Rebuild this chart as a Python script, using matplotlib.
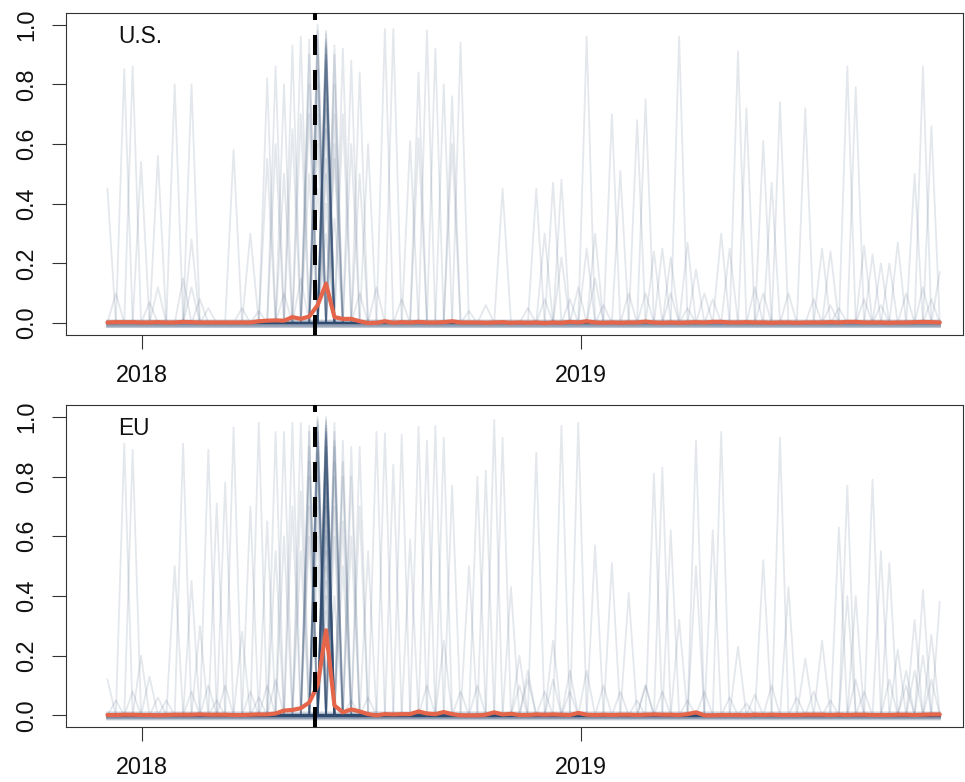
import numpy as np
import pandas as pd
import matplotlib
matplotlib.use("Agg")
import matplotlib.pyplot as plt
import matplotlib.dates as mdates

plt.rcParams['font.family'] = ['Liberation Sans', 'DejaVu Sans']

# ---------------- data ----------------
START = "2017-12-03"
N_WEEKS = 100
GDPR_DATE = "2018-05-25"
YEAR_TICKS = ["2018-01-01", "2019-01-01"]
YEAR_LABELS = ["2018", "2019"]
Y_TICKS = [0.0, 0.2, 0.4, 0.6, 0.8, 1.0]
PANEL_LABELS = ["U.S.", "EU"]

# U.S.: individual search-term series, each peaking in one week (week index, peak value)
US_SPIKE_WEEKS = [0, 2, 3, 4, 6, 8, 10, 10, 15, 17, 19, 19, 20, 20, 21, 21, 22, 22, 23, 23,
                  24, 24, 24, 24, 24,
                  25, 25, 25, 25, 25, 25, 25, 25, 25,
                  26, 26, 26, 26, 26, 26, 26, 26, 26, 26, 26, 26, 26, 26, 26, 26, 26, 26, 26, 26,
                  27, 27, 27, 27, 27, 27, 27, 28, 28, 29, 29, 30, 30, 31,
                  33, 34, 36, 37, 37, 38, 39, 40, 41, 41, 42,
                  47, 51, 52, 53, 54, 54, 57, 57, 58, 60, 61, 63, 64, 65, 66, 67, 68,
                  69, 70, 73, 74, 75, 76, 78, 79, 80, 83, 85, 86, 88, 89, 90, 91, 92,
                  93, 94, 96, 97, 98, 99]
US_SPIKE_HEIGHTS = [0.45, 0.85, 0.86, 0.54, 0.56, 0.80, 0.80, 0.28, 0.58, 0.30, 0.82, 0.55, 0.86, 0.60, 0.80, 0.50, 0.93, 0.65, 0.96, 0.70,
                    0.95, 0.90, 0.80, 0.70, 0.50,
                    1.00, 0.98, 0.95, 0.90, 0.85, 0.80, 0.70, 0.60, 0.45,
                    0.98, 0.97, 0.95, 0.94, 0.93, 0.92, 0.90, 0.90, 0.88, 0.87, 0.85, 0.82, 0.80, 0.75, 0.72, 0.65, 0.55, 0.50, 0.40, 0.30,
                    0.93, 0.90, 0.80, 0.70, 0.60, 0.55, 0.35, 0.92, 0.70, 0.88, 0.60, 0.84, 0.50, 0.60,
                    0.985, 0.985, 0.61, 0.84, 0.62, 0.98, 0.92, 0.80, 0.76, 0.60, 0.94,
                    0.45, 0.45, 0.30, 0.47, 0.48, 0.22, 0.96, 0.25, 0.30, 0.70, 0.51, 0.68, 0.75, 0.24, 0.25, 0.22, 0.96,
                    0.27, 0.18, 0.30, 0.25, 0.91, 0.72, 0.61, 0.47, 0.74, 0.72, 0.25, 0.24, 0.86, 0.79, 0.26, 0.23, 0.20,
                    0.20, 0.27, 0.50, 0.86, 0.66, 0.17]
US_BUMP_WEEKS = [1, 5, 6, 9, 10, 11, 12, 16, 18, 21, 23, 30, 32, 35, 43, 45, 50, 52, 55, 56,
                 58, 59, 62, 64, 67, 69, 71, 72, 77, 78, 81, 84, 86, 87, 90, 92, 95, 97, 98]
US_BUMP_HEIGHTS = [0.10, 0.07, 0.12, 0.15, 0.12, 0.08, 0.05, 0.05, 0.04, 0.10, 0.15, 0.10, 0.12, 0.08, 0.04, 0.06, 0.05, 0.08, 0.08, 0.12,
                   0.15, 0.06, 0.10, 0.10, 0.10, 0.05, 0.10, 0.08, 0.12, 0.10, 0.10, 0.08, 0.06, 0.05, 0.08, 0.06, 0.10, 0.12, 0.08]
# series that stay flat, at these levels, across the whole period
US_FLAT_LEVELS = [-0.014, -0.012, -0.012, -0.010, -0.010, -0.008, -0.008, -0.006, -0.006, -0.004,
                  -0.004, -0.002, -0.002, 0.0, 0.0, 0.0, 0.0, 0.002, 0.002, 0.004,
                  0.004, 0.006, 0.008, 0.010]
US_MEAN = [0.002, 0.003, 0.003, 0.003, 0.002, 0.002, 0.003, 0.002, 0.002, 0.004,
           0.003, 0.002, 0.002, 0.002, 0.002, 0.002, 0.002, 0.002, 0.006, 0.008,
           0.009, 0.008, 0.020, 0.014, 0.022, 0.060, 0.132, 0.020, 0.014, 0.014,
           0.006, 0.000, 0.001, 0.006, 0.001, 0.003, 0.002, 0.004, 0.002, 0.002,
           0.003, 0.006, 0.002, 0.002, 0.002, 0.001, 0.002, 0.003, 0.001, 0.002,
           0.001, 0.002, 0.000, 0.002, 0.001, 0.004, 0.002, 0.006, 0.002, 0.001,
           0.002, 0.001, 0.002, 0.002, 0.005, 0.002, 0.001, 0.002, 0.001, 0.002,
           0.003, 0.002, 0.004, 0.004, 0.002, 0.002, 0.003, 0.002, 0.002, 0.001,
           0.002, 0.002, 0.001, 0.002, 0.002, 0.002, 0.003, 0.002, 0.004, 0.004,
           0.002, 0.002, 0.002, 0.001, 0.002, 0.002, 0.003, 0.004, 0.003, 0.002]

# EU
EU_SPIKE_WEEKS = [0, 2, 3, 4, 5, 8, 9, 10, 11, 12, 13, 14, 15, 16, 17, 18, 19, 20, 20, 21, 21, 22, 22, 23, 23, 23,
                  24, 24, 24, 24, 24, 24, 24,
                  25, 25, 25, 25, 25, 25, 25, 25, 25, 25, 25, 25, 25,
                  26, 26, 26, 26, 26, 26, 26, 26, 26, 26, 26, 26, 26, 26, 26, 26, 26, 26, 26, 26,
                  26, 26, 26, 26, 26, 26, 26, 26, 26, 26,
                  27, 27, 27, 27, 27, 27, 27, 27, 27, 28, 28, 28, 28, 28, 29, 29, 29, 30, 30, 31,
                  32, 33, 34, 35, 36, 37, 38, 39, 40, 40, 41,
                  43, 44, 45, 46, 47, 48, 49, 50, 51, 53, 54, 55, 56, 58, 60, 62, 64, 65, 66, 67,
                  68, 70, 70, 72, 73, 75, 78, 80, 81, 83, 85, 87, 88, 88, 89, 91, 92, 93, 94, 95,
                  96, 97, 98, 99]
EU_SPIKE_HEIGHTS = [0.12, 0.91, 0.89, 0.20, 0.13, 0.50, 0.91, 0.45, 0.30, 0.89, 0.71, 0.78, 0.965, 0.28, 0.70, 0.98, 0.65, 0.95, 0.55, 0.60, 0.95, 0.98, 0.70, 0.98, 0.75, 0.55,
                    0.97, 0.95, 0.90, 0.85, 0.80, 0.70, 0.60,
                    1.00, 0.99, 0.98, 0.97, 0.95, 0.92, 0.90, 0.88, 0.85, 0.80, 0.70, 0.60, 0.50,
                    1.00, 0.99, 0.98, 0.97, 0.96, 0.95, 0.95, 0.94, 0.93, 0.92, 0.90, 0.90, 0.88, 0.87, 0.85, 0.83, 0.82, 0.80, 0.78, 0.75,
                    0.72, 0.70, 0.65, 0.62, 0.60, 0.55, 0.50, 0.45, 0.40, 0.35,
                    0.98, 0.95, 0.92, 0.90, 0.85, 0.80, 0.70, 0.60, 0.40, 0.92, 0.85, 0.80, 0.65, 0.50, 0.90, 0.80, 0.60, 0.90, 0.70, 0.55,
                    0.95, 0.945, 0.84, 0.94, 0.59, 0.967, 0.92, 0.97, 0.93, 0.25, 0.77,
                    0.50, 0.80, 0.82, 0.99, 0.93, 0.43, 0.20, 0.15, 0.88, 0.25, 0.97, 0.15, 0.98, 0.57, 0.51, 0.41, 0.10, 0.81, 0.83, 0.62,
                    0.32, 0.92, 0.50, 0.62, 0.95, 0.23, 0.52, 0.93, 0.43, 0.19, 0.25, 0.63, 0.77, 0.40, 0.40, 0.79, 0.55, 0.51, 0.22, 0.10,
                    0.32, 0.42, 0.27, 0.38]
EU_BUMP_WEEKS = [1, 3, 6, 7, 10, 12, 13, 14, 17, 18, 19, 20, 29, 31, 38, 42, 44, 49, 50, 52, 53, 55,
                 57, 59, 61, 63, 64, 66, 69, 71, 74, 76, 77, 79, 82, 84, 86, 89, 90, 93, 95, 96, 97, 98]
EU_BUMP_HEIGHTS = [0.05, 0.08, 0.06, 0.05, 0.08, 0.10, 0.05, 0.10, 0.08, 0.06, 0.10, 0.12, 0.05, 0.06, 0.10, 0.08, 0.10, 0.10, 0.12, 0.08, 0.12, 0.08,
                   0.15, 0.10, 0.08, 0.05, 0.10, 0.08, 0.05, 0.08, 0.06, 0.04, 0.07, 0.10, 0.06, 0.08, 0.05, 0.12, 0.08, 0.12, 0.15, 0.15, 0.20, 0.12]
EU_FLAT_LEVELS = [-0.014, -0.012, -0.012, -0.010, -0.010, -0.008, -0.008, -0.006, -0.006, -0.004,
                  -0.004, -0.002, -0.002, 0.0, 0.0, 0.0, 0.0, 0.002, 0.002, 0.004,
                  0.004, 0.006, 0.008, 0.010]
EU_MEAN = [0.001, 0.001, 0.002, 0.002, 0.001, 0.001, 0.000, 0.001, 0.002, 0.002,
           0.002, 0.003, 0.002, 0.002, 0.002, 0.001, 0.001, 0.002, 0.003, 0.003,
           0.006, 0.016, 0.018, 0.024, 0.043, 0.100, 0.285, 0.033, 0.010, 0.020,
           0.013, 0.004, 0.000, 0.004, 0.003, 0.004, 0.004, 0.013, 0.006, 0.004,
           0.011, 0.004, 0.000, 0.000, 0.000, 0.002, 0.010, 0.003, 0.005, 0.001,
           0.001, 0.003, 0.002, 0.003, 0.002, 0.001, 0.008, 0.002, 0.001, 0.002,
           0.001, 0.002, 0.002, 0.001, 0.002, 0.003, 0.002, 0.002, 0.001, 0.004,
           0.010, 0.000, 0.000, 0.001, 0.001, 0.001, 0.000, 0.002, 0.001, 0.002,
           0.001, 0.001, 0.001, 0.002, 0.002, 0.002, 0.001, 0.002, 0.001, 0.002,
           0.002, 0.001, 0.001, 0.001, 0.002, 0.002, 0.001, 0.002, 0.003, 0.003]

# ---------------- styling ----------------
THIN_COLOR = "#2F4B70"
THIN_ALPHA = 0.13
MEAN_COLOR = "#E4654A"
FS = 16.8

dates = pd.date_range(START, periods=N_WEEKS, freq="7D")
xnum = mdates.date2num(dates.to_pydatetime())
x_left = mdates.date2num(pd.Timestamp("2018-01-01")) - 63.5
x_right = mdates.date2num(pd.Timestamp("2019-01-01")) + 318.3


def build_series(weeks, heights):
    series = []
    for w, h in zip(weeks, heights):
        y = np.zeros(N_WEEKS)
        y[w] = h
        series.append(y)
    return series


panels = [
    (US_SPIKE_WEEKS, US_SPIKE_HEIGHTS, US_BUMP_WEEKS, US_BUMP_HEIGHTS, US_FLAT_LEVELS, US_MEAN),
    (EU_SPIKE_WEEKS, EU_SPIKE_HEIGHTS, EU_BUMP_WEEKS, EU_BUMP_HEIGHTS, EU_FLAT_LEVELS, EU_MEAN),
]

fig = plt.figure(figsize=(9.65, 7.82), dpi=100)
rects = [[0.0684, 0.5716, 0.9295, 0.4122], [0.0684, 0.0700, 0.9295, 0.4121]]

for rect, label, (sw, sh, bw, bh, flats, mean) in zip(rects, PANEL_LABELS, panels):
    ax = fig.add_axes(rect)
    series = build_series(sw, sh) + build_series(bw, bh)
    series += [np.full(N_WEEKS, lv) for lv in flats]
    for y in series:
        ax.plot(xnum, y, color=THIN_COLOR, alpha=THIN_ALPHA, lw=1.3,
                solid_joinstyle="round", zorder=2)
    ax.plot(xnum, mean, color=MEAN_COLOR, lw=3.0, solid_joinstyle="round",
            solid_capstyle="round", zorder=3)
    ax.axvline(mdates.date2num(pd.Timestamp(GDPR_DATE)), color="black", lw=2.9,
               linestyle=(0, (4.97, 3.72)), zorder=4)

    ax.set_xlim(x_left, x_right)
    ax.set_ylim(-0.04, 1.04)
    ax.set_xticks([mdates.date2num(pd.Timestamp(t)) for t in YEAR_TICKS])
    ax.set_xticklabels(YEAR_LABELS)
    ax.set_yticks(Y_TICKS)
    ax.set_yticklabels([f"{v:.1f}" for v in Y_TICKS], rotation=90, va="center")
    ax.tick_params(axis="both", length=10, width=0.8, color="#333333",
                   labelsize=FS, labelcolor="#111111")
    ax.tick_params(axis="y", pad=10)
    ax.tick_params(axis="x", pad=11)
    for sp in ax.spines.values():
        sp.set_linewidth(0.8)
        sp.set_color("#333333")
    ax.text(0.058, 0.906, label, transform=ax.transAxes, fontsize=FS - 0.5,
            ha="left", va="baseline", color="#111111", zorder=5)

fig.savefig("out.png", dpi=100)
